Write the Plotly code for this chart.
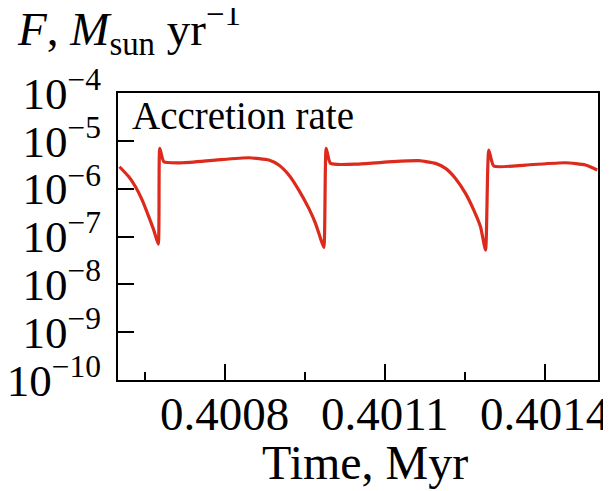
import plotly.graph_objects as go

# Time, Myr
time_myr = [
    0.4006028, 0.4006203, 0.4006328, 0.4006454, 0.4006578, 0.4006671,
    0.4006754, 0.4006784, 0.4006859, 0.4007204, 0.4007828, 0.4008453,
    0.4008828, 0.4009015, 0.4009203, 0.4009390, 0.4009578, 0.4009703,
    0.4009797, 0.4009859, 0.4009904, 0.4009984, 0.4010515, 0.4011141,
    0.4011640, 0.4011953, 0.4012141, 0.4012328, 0.4012516, 0.4012671,
    0.4012797, 0.4012891, 0.4012953, 0.4013046, 0.4013641, 0.4014391,
    0.4014766, 0.4014985,
]
# Accretion rate F, Msun/yr
accretion_rate = [
    2.87e-6, 1.77e-6, 1.10e-6, 5.78e-7, 2.58e-7, 1.36e-7,
    6.93e-8, 6.97e-6, 3.66e-6, 3.48e-6, 3.96e-6, 4.43e-6,
    3.96e-6, 3.12e-6, 1.93e-6, 9.35e-7, 3.87e-7, 1.88e-7,
    9.12e-8, 5.92e-8, 6.97e-6, 3.38e-6, 3.27e-6, 3.66e-6,
    3.84e-6, 3.38e-6, 2.66e-6, 1.64e-6, 7.97e-7, 3.56e-7,
    1.60e-7, 5.19e-8, 6.42e-6, 2.97e-6, 3.12e-6, 3.48e-6,
    3.12e-6, 2.45e-6,
]
x_tickvals = [0.4008, 0.4011, 0.4014]
x_ticklabels = ["0.4008", "0.4011", "0.4014"]
x_minor_tickvals = [0.40065, 0.40095, 0.40125]
y_tickvals = [1e-10, 1e-9, 1e-8, 1e-7, 1e-6, 1e-5, 1e-4]
y_ticklabels = ["10<sup>−10</sup>", "10<sup>−9</sup>", "10<sup>−8</sup>", "10<sup>−7</sup>",
                "10<sup>−6</sup>", "10<sup>−5</sup>", "10<sup>−4</sup>"]

FONT = "Liberation Serif"

fig = go.Figure()
fig.add_trace(go.Scatter(
    x=time_myr, y=accretion_rate, mode="lines",
    line=dict(color="#dc2a1c", width=3.2, shape="spline", smoothing=0.5),
    showlegend=False,
))

fig.update_layout(
    width=603, height=483,
    margin=dict(l=109.5, r=13, t=85, b=111),
    paper_bgcolor="white", plot_bgcolor="white",
    font=dict(family=FONT, size=44, color="black"),
    xaxis=dict(
        range=[0.4006, 0.4015], automargin=False,
        tickmode="array", tickvals=x_tickvals, ticktext=x_ticklabels,
        ticks="inside", ticklen=16, tickwidth=2, tickcolor="black",
        minor=dict(ticks="inside", ticklen=8, tickwidth=2, tickcolor="black",
                   tickmode="array", tickvals=x_minor_tickvals),
        showline=True, linecolor="black", linewidth=2, mirror=True,
        showgrid=False, zeroline=False,
        tickfont=dict(family=FONT, size=47),
        ticklabelstandoff=-8,
    ),
    yaxis=dict(
        type="log", range=[-10, -4], automargin=False,
        tickmode="array", tickvals=y_tickvals, ticktext=y_ticklabels,
        ticks="inside", ticklen=16, tickwidth=2, tickcolor="black",
        showline=True, linecolor="black", linewidth=2, mirror=True,
        showgrid=False, zeroline=False,
        tickfont=dict(family=FONT, size=45),
        ticklabelstandoff=6,
    ),
    annotations=[
        dict(text="<i>F</i>, <i>M</i><sub>sun</sub> yr<sup>−1</sup>",
             xref="paper", yref="paper", x=-0.215, y=1.10,
             xanchor="left", yanchor="bottom", showarrow=False,
             font=dict(family=FONT, size=47)),
        dict(text="Accretion rate",
             xref="paper", yref="paper", x=0.025, y=1.005,
             xanchor="left", yanchor="top", showarrow=False,
             font=dict(family=FONT, size=39)),
        dict(text="Time, Myr",
             xref="paper", yref="paper", x=0.514, y=-0.289,
             xanchor="center", yanchor="middle", showarrow=False,
             font=dict(family=FONT, size=48)),
    ],
)

fig.write_html("out.html")
